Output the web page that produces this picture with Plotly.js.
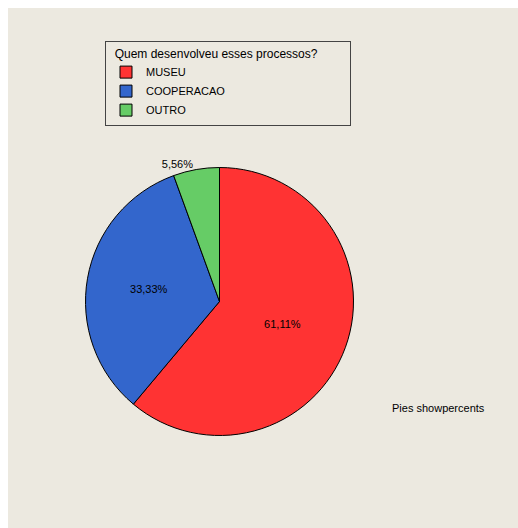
<!DOCTYPE html>
<html>
<head>
<meta charset="utf-8">
<script src="https://cdn.plot.ly/plotly-3.0.1.min.js"></script>
<style>
  html, body { margin: 0; padding: 0; background: #ffffff; width: 518px; height: 528px; overflow: hidden; }
  #chart { position: absolute; left: 8px; top: 8px; width: 510px; height: 520px; }
</style>
</head>
<body>
<div id="chart"></div>
<script>
// Data
const categories = ["MUSEU", "COOPERACAO", "OUTRO"];
const counts = [11, 6, 1];
const sliceColors = ["#FF3333", "#3366CC", "#66CC66"];
const legendTitle = "Quem desenvolveu esses processos?";
const noteText = "Pies showpercents";

const W = 510, H = 520;
const cx = 211.5, cy = 293.5, r = 134;

const trace = {
  type: "pie",
  labels: categories,
  values: counts,
  sort: false,
  direction: "clockwise",
  rotation: 0,
  marker: { colors: sliceColors, line: { color: "#000000", width: 1 } },
  texttemplate: "%{percent:.2%}",
  textposition: ["inside", "inside", "outside"],
  insidetextorientation: "horizontal",
  textfont: { family: "Liberation Sans, Arial, sans-serif", size: 11, color: "#000000" },
  outsidetextfont: { family: "Liberation Sans, Arial, sans-serif", size: 11, color: "#000000" },
  hoverinfo: "label+percent",
  domain: {
    x: [(cx - r) / W, (cx + r) / W],
    y: [(H - cy - r) / H, (H - cy + r) / H]
  },
  automargin: false
};

const pad = "\u00a0";
const layout = {
  width: W,
  height: H,
  margin: { l: 0, r: 0, t: 0, b: 0 },
  paper_bgcolor: "#ECE9E0",
  separators: ",.",
  font: { family: "Liberation Sans, Arial, sans-serif", size: 11, color: "#000000" },
  showlegend: true,
  legend: {
    x: 97 / W,
    y: 1 - 33 / H,
    xanchor: "left",
    yanchor: "top",
    bgcolor: "#ECE9E0",
    bordercolor: "#444444",
    borderwidth: 1,
    title: { text: pad.repeat(2) + legendTitle + pad.repeat(9), side: "top", font: { size: 12, color: "#000000" } },
    font: { size: 11, color: "#000000" },
    itemwidth: 30,
    tracegroupgap: 0
  },
  annotations: [{
    text: noteText,
    xref: "paper", yref: "paper",
    x: 382 / W, y: 1 - 400 / H,
    xanchor: "left", yanchor: "middle",
    showarrow: false,
    font: { size: 11, color: "#000000" }
  }]
};

Plotly.newPlot("chart", [trace], layout, { displayModeBar: false, staticPlot: true });
</script>
</body>
</html>
